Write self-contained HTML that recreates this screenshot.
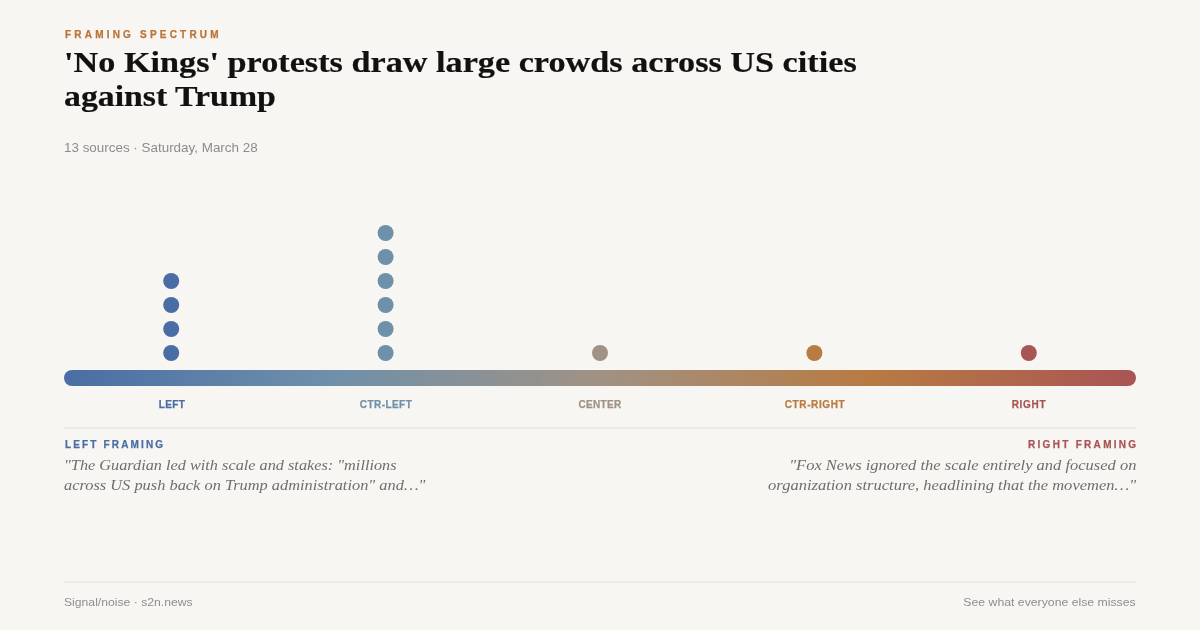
<!DOCTYPE html>
<html><head><meta charset="utf-8">
<style>
*{margin:0;padding:0;box-sizing:border-box}
html,body{width:1200px;height:630px;overflow:hidden;background:#f8f6f2}
body{position:relative;font-family:"Liberation Sans",sans-serif}
.t{position:absolute;white-space:nowrap;line-height:1;will-change:transform}
.L{transform-origin:0 0}
.R{transform-origin:100% 0;text-align:right}
.C{transform-origin:50% 0;text-align:center;width:200px}
.kicker{left:65px;top:30px;font-size:10px;font-weight:700;letter-spacing:3.2px;color:#bb7436;-webkit-text-stroke:0.25px currentColor}
.h1{left:64px;font-family:"Liberation Serif",serif;font-weight:700;font-size:29px;color:#111;-webkit-text-stroke:0.2px #111;transform:scaleX(1.18)}
.meta{left:64px;top:141px;font-size:13px;color:#8c8c8c;transform:scaleX(1.032)}
.dot{position:absolute;width:16px;height:16px;border-radius:50%}
.bar{position:absolute;left:64px;top:370px;width:1072px;height:16px;border-radius:8px;
 background:linear-gradient(90deg,#4a6da5 0%,#6f90aa 25%,#a09284 50%,#b87b42 75%,#a85555 100%)}
.lbl{top:400px;font-size:10px;font-weight:700;-webkit-text-stroke:0.25px currentColor}
.rule{position:absolute;left:64px;width:1072px;height:2px;background:#edebe6}
.fr{top:440px;font-size:10px;font-weight:700;letter-spacing:2.3px;-webkit-text-stroke:0.25px currentColor}
.q{font-family:"Liberation Serif",serif;font-style:italic;font-size:14.5px;color:#6e6e6e;transform:scaleX(1.13)}
.foot{top:597px;font-size:11px;color:#8e8e8e}
</style></head><body>
<div class="t kicker">FRAMING SPECTRUM</div>
<div class="t L h1" style="top:48px">'No Kings' protests draw large crowds across US cities</div>
<div class="t L h1" style="top:82px;transform:scaleX(1.165)">against Trump</div>
<div class="t L meta">13 sources · Saturday, March 28</div>




<svg style="position:absolute;left:0;top:0" width="1200" height="630"><circle cx="171.2" cy="353" r="8" fill="#4a6da5"/><circle cx="171.2" cy="329" r="8" fill="#4a6da5"/><circle cx="171.2" cy="305" r="8" fill="#4a6da5"/><circle cx="171.2" cy="281" r="8" fill="#4a6da5"/><circle cx="385.6" cy="353" r="8" fill="#6f90aa"/><circle cx="385.6" cy="329" r="8" fill="#6f90aa"/><circle cx="385.6" cy="305" r="8" fill="#6f90aa"/><circle cx="385.6" cy="281" r="8" fill="#6f90aa"/><circle cx="385.6" cy="257" r="8" fill="#6f90aa"/><circle cx="385.6" cy="233" r="8" fill="#6f90aa"/><circle cx="600" cy="353" r="8" fill="#a09284"/><circle cx="814.4" cy="353" r="8" fill="#b87b42"/><circle cx="1028.8" cy="353" r="8" fill="#a85555"/></svg>
<div class="bar"></div>

<div class="t C lbl" style="left:71.7px;letter-spacing:0.4px;color:#4a6da5">LEFT</div>
<div class="t C lbl" style="left:285.9px;letter-spacing:0.45px;color:#6f90aa">CTR-LEFT</div>
<div class="t C lbl" style="left:500.3px;letter-spacing:0.35px;color:#a09284">CENTER</div>
<div class="t C lbl" style="left:715px;letter-spacing:0.6px;color:#b87b42">CTR-RIGHT</div>
<div class="t C lbl" style="left:929.35px;letter-spacing:0.7px;color:#a85555">RIGHT</div>

<div class="rule" style="top:427px"></div>

<div class="t fr" style="left:65px;letter-spacing:2.15px;color:#4a6da5">LEFT FRAMING</div>
<div class="t fr" style="left:1028px;color:#a85555">RIGHT FRAMING</div>
<div class="t L q" style="left:64px;top:458px;transform:scaleX(1.122)">"The Guardian led with scale and stakes: "millions</div>
<div class="t L q" style="left:64px;top:478px">across US push back on Trump administration" and…"</div>
<div class="t R q" style="right:64px;top:458px;transform:scaleX(1.137)">"Fox News ignored the scale entirely and focused on</div>
<div class="t R q" style="right:64px;top:478px;transform:scaleX(1.139)">organization structure, headlining that the movemen…"</div>

<div class="rule" style="top:581px"></div>
<div class="t L foot" style="left:64px;transform:scaleX(1.107)">Signal/noise · s2n.news</div>
<div class="t R foot" style="right:64px;transform:scaleX(1.114)">See what everyone else misses</div>
</body></html>
